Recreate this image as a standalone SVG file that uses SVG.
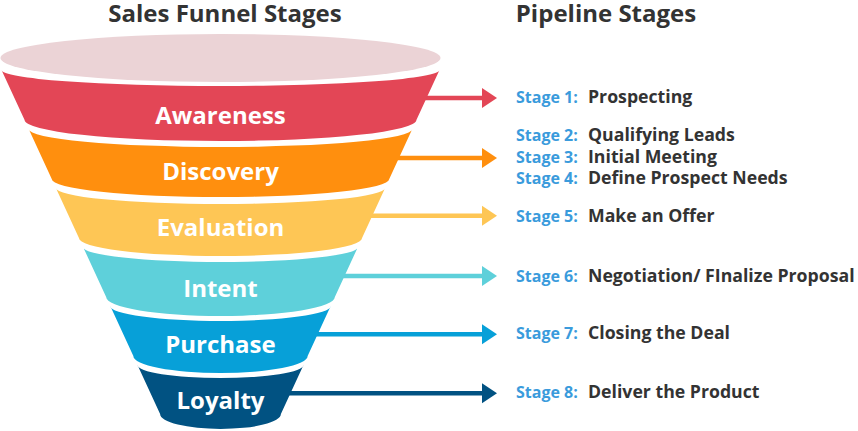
<svg xmlns="http://www.w3.org/2000/svg" width="858" height="431" viewBox="0 0 858 431">
<style>
  text { font-family: "Open Sans", "Noto Sans", "Liberation Sans", sans-serif; font-weight: 700; }
  .title { font-size: 24px; fill: #333333; text-anchor: middle; }
  .band-label { font-size: 24px; fill: #ffffff; text-anchor: middle; }
  .stage-num { font-size: 16px; fill: #3A9BDC; }
  .stage-txt { font-size: 17.7px; fill: #333333; }
  .conn { fill: none; stroke-width: 4.5; }
</style>
<defs>
  <marker id="h-red" markerUnits="userSpaceOnUse" markerWidth="16" markerHeight="22" viewBox="0 0 16 22" refX="0.5" refY="11" orient="auto"><path d="M0.5,1 L15.5,11 L0.5,21 Z" fill="#E34656"/></marker>
  <marker id="h-orange" markerUnits="userSpaceOnUse" markerWidth="16" markerHeight="22" viewBox="0 0 16 22" refX="0.5" refY="11" orient="auto"><path d="M0.5,1 L15.5,11 L0.5,21 Z" fill="#FF8F0E"/></marker>
  <marker id="h-yellow" markerUnits="userSpaceOnUse" markerWidth="16" markerHeight="22" viewBox="0 0 16 22" refX="0.5" refY="11" orient="auto"><path d="M0.5,1 L15.5,11 L0.5,21 Z" fill="#FEC655"/></marker>
  <marker id="h-cyan" markerUnits="userSpaceOnUse" markerWidth="16" markerHeight="22" viewBox="0 0 16 22" refX="0.5" refY="11" orient="auto"><path d="M0.5,1 L15.5,11 L0.5,21 Z" fill="#5ED0DA"/></marker>
  <marker id="h-blue" markerUnits="userSpaceOnUse" markerWidth="16" markerHeight="22" viewBox="0 0 16 22" refX="0.5" refY="11" orient="auto"><path d="M0.5,1 L15.5,11 L0.5,21 Z" fill="#07A0D8"/></marker>
  <marker id="h-dark" markerUnits="userSpaceOnUse" markerWidth="16" markerHeight="22" viewBox="0 0 16 22" refX="0.5" refY="11" orient="auto"><path d="M0.5,1 L15.5,11 L0.5,21 Z" fill="#015282"/></marker>
</defs>
<rect width="858" height="431" fill="#ffffff"/>

<g id="titles">
  <text class="title" x="225" y="21.5">Sales Funnel Stages</text>
  <text class="title" x="606" y="21.5">Pipeline Stages</text>
</g>

<g id="connectors">
  <path class="conn" stroke="#E34656" d="M300,98 H482" marker-end="url(#h-red)"/>
  <path class="conn" stroke="#FF8F0E" d="M300,158 H482" marker-end="url(#h-orange)"/>
  <path class="conn" stroke="#FEC655" d="M300,215.7 H482" marker-end="url(#h-yellow)"/>
  <path class="conn" stroke="#5ED0DA" d="M250,276 H482" marker-end="url(#h-cyan)"/>
  <path class="conn" stroke="#07A0D8" d="M250,334.3 H482" marker-end="url(#h-blue)"/>
  <path class="conn" stroke="#015282" d="M230,393.3 H482" marker-end="url(#h-dark)"/>
</g>

<g id="funnel-top">
  <ellipse cx="220.5" cy="58" rx="220" ry="24" fill="#EBD3D6"/>
</g>

<g id="awareness">
  <path fill="#E34656" d="M1.5,70 A219,16 0 0 0 439.5,70 L416.4,120 A195.9,21 0 0 1 24.6,120 Z"/>
  <text class="band-label" x="220.5" y="124">Awareness</text>
</g>
<g id="discovery">
  <path fill="#FF8F0E" d="M28.7,129 A191.8,18 0 0 0 412.3,129 L389.25,179 A168.75,18 0 0 1 51.75,179 Z"/>
  <text class="band-label" x="220.5" y="179.5">Discovery</text>
</g>
<g id="evaluation">
  <path fill="#FEC655" d="M55.9,188 A164.6,16 0 0 0 385.1,188 L362.05,238 A141.55,18 0 0 1 78.95,238 Z"/>
  <text class="band-label" x="220.5" y="236">Evaluation</text>
</g>
<g id="intent">
  <path fill="#5ED0DA" d="M83.1,247 A137.4,15 0 0 0 357.9,247 L334.85,297 A114.35,19 0 0 1 106.15,297 Z"/>
  <text class="band-label" x="220.5" y="296.7">Intent</text>
</g>
<g id="purchase">
  <path fill="#07A0D8" d="M110.3,306 A110.2,15 0 0 0 330.7,306 L307.65,356 A87.15,17 0 0 1 133.35,356 Z"/>
  <text class="band-label" x="220.5" y="352.7">Purchase</text>
</g>
<g id="loyalty">
  <path fill="#015282" d="M137.5,365 A83,13 0 0 0 303.5,365 L280.9,414 A60.4,15 0 0 1 160.1,414 Z"/>
  <text class="band-label" x="220.5" y="409.3">Loyalty</text>
</g>

<g id="stage-1"><text class="stage-num" x="516" y="103.3">Stage 1:</text><text class="stage-txt" x="588" y="103.3">Prospecting</text></g>
<g id="stage-2"><text class="stage-num" x="516" y="140.7">Stage 2:</text><text class="stage-txt" x="588" y="140.7">Qualifying Leads</text></g>
<g id="stage-3"><text class="stage-num" x="516" y="162.7">Stage 3:</text><text class="stage-txt" x="588" y="162.7">Initial Meeting</text></g>
<g id="stage-4"><text class="stage-num" x="516" y="184">Stage 4:</text><text class="stage-txt" x="588" y="184">Define Prospect Needs</text></g>
<g id="stage-5"><text class="stage-num" x="516" y="221.7">Stage 5:</text><text class="stage-txt" x="588" y="221.7">Make an Offer</text></g>
<g id="stage-6"><text class="stage-num" x="516" y="281.7">Stage 6:</text><text class="stage-txt" x="588" y="281.7">Negotiation/ FInalize Proposal</text></g>
<g id="stage-7"><text class="stage-num" x="516" y="339.3">Stage 7:</text><text class="stage-txt" x="588" y="339.3">Closing the Deal</text></g>
<g id="stage-8"><text class="stage-num" x="516" y="398.3">Stage 8:</text><text class="stage-txt" x="588" y="398.3">Deliver the Product</text></g>
</svg>
